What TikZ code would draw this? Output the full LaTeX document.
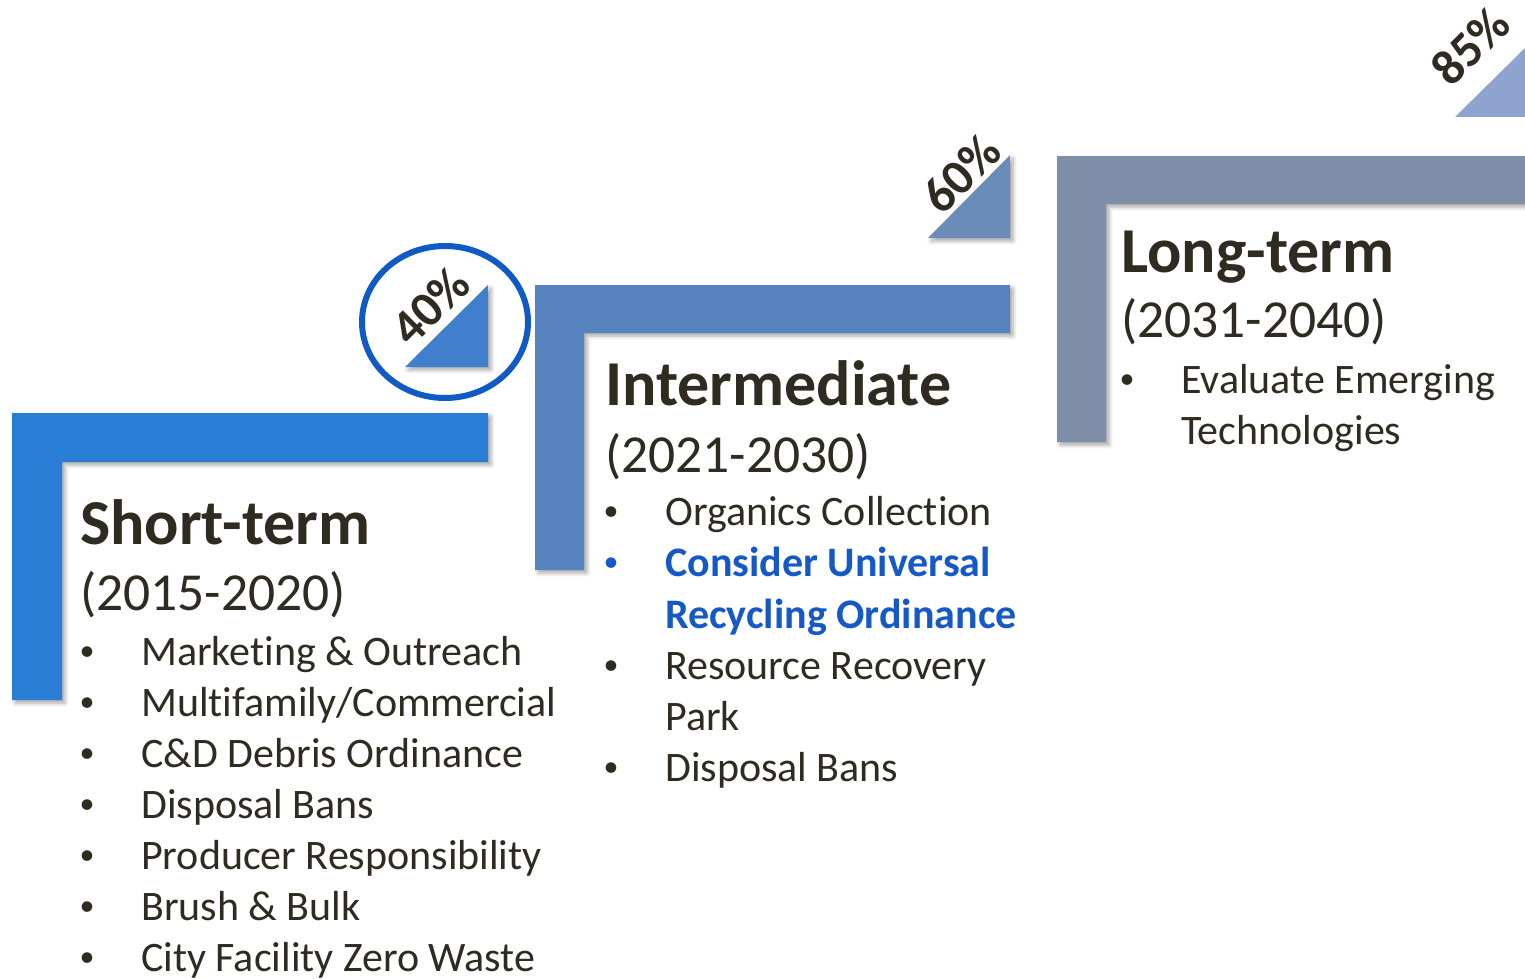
\documentclass[tikz,border=0pt]{standalone}
\usepackage{fontspec}
\setmainfont{Carlito}[Ligatures={NoCommon}]
\usetikzlibrary{shadows.blur,shapes.geometric}
\definecolor{txt}{HTML}{2F2B20}
\definecolor{bluetxt}{HTML}{1558C8}
\definecolor{cShort}{HTML}{2A7DD5}
\definecolor{cMid}{HTML}{5683BE}
\definecolor{cLong}{HTML}{7F8FA9}
\definecolor{tA}{HTML}{407FCB}
\definecolor{tB}{HTML}{6B8CB9}
\definecolor{tC}{HTML}{8FA3D0}
\definecolor{ring}{HTML}{0F5AC4}
\tikzset{
  shad/.style={blur shadow={shadow xshift=3pt, shadow yshift=-3pt, shadow blur radius=4pt, shadow opacity=35}},
  heading/.style={anchor=base west, inner sep=0, text=txt, font=\fontsize{64}{70}\selectfont\bfseries},
  years/.style={anchor=base west, inner sep=0, text=txt, font=\fontsize{53.5}{60}\selectfont},
  item/.style={anchor=base west, inner sep=0, text=txt, font=\fontsize{42}{51}\selectfont},
  bul/.style={anchor=base, inner sep=0, text=txt, font=\fontsize{30}{36}\selectfont},
  pct/.style={inner sep=0, rotate=45, text=txt, font=\fontsize{50}{55}\selectfont\bfseries},
}
\begin{document}
\begin{tikzpicture}[x=1pt,y=-1pt]
\useasboundingbox (0,0) rectangle (1525,979);
% L-shaped bars
\fill[cShort,shad] (12,413) -- (488,413) -- (488,462) -- (62,462) -- (62,700) -- (12,700) -- cycle;
\fill[cMid,shad] (535,285) -- (1010,285) -- (1010,333) -- (584,333) -- (584,570) -- (535,570) -- cycle;
\fill[cLong,shad] (1057,156) -- (1540,156) -- (1540,204) -- (1106,204) -- (1106,442) -- (1057,442) -- cycle;
% triangles
\fill[tA,shad] (488,285) -- (488,367) -- (405,367) -- cycle;
\fill[tB,shad] (1010,155) -- (1010,238) -- (928,238) -- cycle;
\fill[tC] (1525,48) -- (1525,117) -- (1455,117) -- cycle;
% ring
\node[draw=ring, line width=6pt, ellipse, minimum width=166pt, minimum height=152pt, inner sep=0] (ring) at (445,322) {};
% percentages
\node[pct] (p40) at (430,306) {40\%};
\node[pct] (p60) at (961,174) {60\%};
\node[pct] (p85) at (1470,46) {85\%};
% Short-term
\node[heading] (sh) at (80,544) {Short-term};
\node[years] (sy) at (80,610) {(2015-2020)};
\foreach \t [count=\i from 0] in {Marketing \& Outreach, Multifamily/Commercial, C\&D Debris Ordinance, Disposal Bans, Producer Responsibility, Brush \& Bulk, City Facility Zero Waste}{
  \node[bul] (sb\i) at (87,660+51*\i) {•};
  \node[item] (si\i) at (141,665+51*\i) {\t};
}
% Intermediate
\node[heading] (mh) at (605,405) {Intermediate};
\node[years] (my) at (605,472) {(2021-2030)};
\node[bul] (mb1) at (611,520) {•};
\node[item] (mi1) at (665,525) {Organics Collection};
\node[bul,text=bluetxt] (mb2) at (611,571) {•};
\node[item,text=bluetxt,font=\fontsize{42}{51}\selectfont\bfseries] (mi2) at (665,576) {Consider Universal};
\node[item,text=bluetxt,font=\fontsize{42}{51}\selectfont\bfseries] (mi2b) at (665,628) {Recycling Ordinance};
\node[bul] (mb3) at (611,674) {•};
\node[item] (mi3) at (665,679) {Resource Recovery};
\node[item] (mi3b) at (665,730) {Park};
\node[bul] (mb4) at (611,776) {•};
\node[item] (mi4) at (665,781) {Disposal Bans};
% Long-term
\node[heading] (lh) at (1121,272) {Long-term};
\node[years] (ly) at (1121,337) {(2031-2040)};
\node[bul] (lb1) at (1127,388) {•};
\node[item] (li1) at (1181,393) {Evaluate Emerging};
\node[item] (li1b) at (1181,444) {Technologies};
\end{tikzpicture}
\end{document}
